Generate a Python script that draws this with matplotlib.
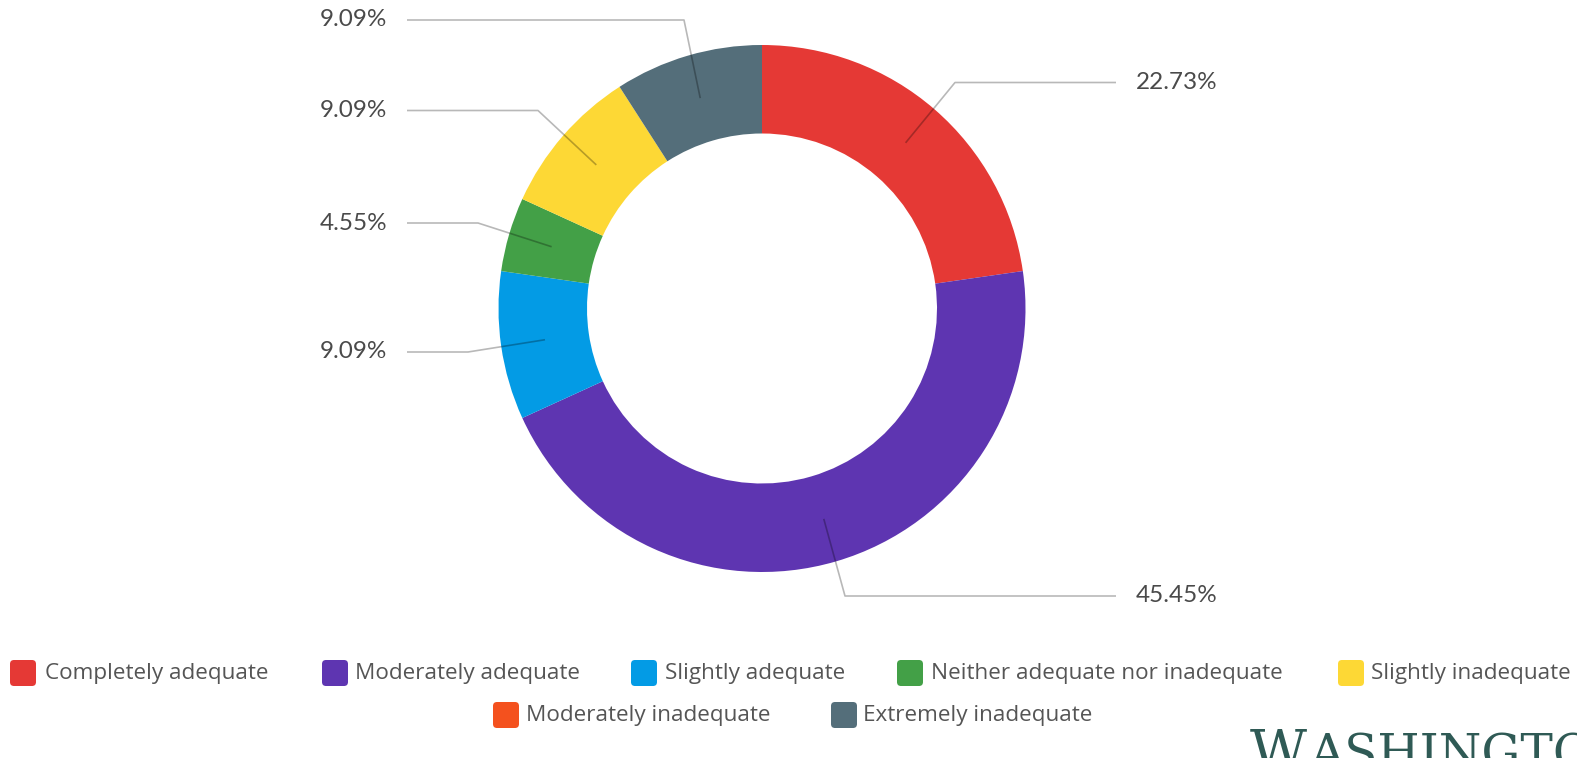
import matplotlib
matplotlib.use("Agg")
import matplotlib.pyplot as plt
from matplotlib.patches import FancyBboxPatch
import numpy as np

categories = ["Completely adequate", "Moderately adequate", "Slightly adequate",
              "Neither adequate nor inadequate", "Slightly inadequate",
              "Moderately inadequate", "Extremely inadequate"]
values = [22.73, 45.45, 9.09, 4.55, 9.09, 0.0, 9.09]
colors = ["#E53935", "#5E35B1", "#039BE5", "#43A047", "#FDD835", "#F4511E", "#546E7A"]

W, H = 1577, 758
fig = plt.figure(figsize=(W / 100, H / 100), dpi=100)
ax = fig.add_axes([0, 0, 1, 1])

cx, cy = 762, 308.5
R, r_in = 263.5, 175
wedges, _ = ax.pie(values, colors=colors, startangle=-90, counterclock=True,
                   radius=R, center=(cx, cy), wedgeprops=dict(width=R - r_in, linewidth=0),
                   frame=True)
ax.set_xlim(0, W)
ax.set_ylim(H, 0)
ax.set_aspect("equal")
ax.axis("off")

# label layout: (elbow x, label y, side)
layout = {
    0: (955, 82.5, "right"),
    1: (845, 596, "right"),
    2: (468, 352, "left"),
    3: (478, 223, "left"),
    4: (538, 110.5, "left"),
    6: (684, 20, "left"),
}
r_mid = (R + r_in) / 2
for i, w in enumerate(wedges):
    if values[i] <= 0 or i not in layout:
        continue
    ang = np.deg2rad((w.theta1 + w.theta2) / 2)
    ax_x = cx + r_mid * np.cos(ang)
    ax_y = cy + r_mid * np.sin(ang)
    ex, ly, side = layout[i]
    if side == "right":
        end_x, tx, ha = 1116, 1136, "left"
    else:
        end_x, tx, ha = 407, 387, "right"
    ax.plot([ax_x, ex, end_x], [ax_y, ly, ly], color="black", alpha=0.28, lw=1.2,
            solid_capstyle="butt", zorder=5)
    ax.text(tx, ly, f"{values[i]:.2f}%", ha=ha, va="center", fontsize=17.5,
            color="#4a4a4a", family="Lato")

# legend
legend_pos = [(10, 45, 673), (322, 355, 673), (631, 665, 673), (897, 931, 673),
              (1338, 1371, 673), (493, 526, 715), (831, 863, 715)]
s = 26
for (sx, tx, ly), cat, col in zip(legend_pos, categories, colors):
    ax.add_patch(FancyBboxPatch((sx + 4, ly - s / 2 + 4), s - 8, s - 8,
                                boxstyle="round,pad=4", facecolor=col, edgecolor="none"))
    ax.text(tx, ly, cat, ha="left", va="center", fontsize=16.2, color="#555555",
            family="Open Sans")

# logo text (cut off at bottom-right)
ax.text(1250, 769, "W", ha="left", va="baseline", fontsize=40, color="#2F5A55",
        family="DejaVu Serif")
ax.text(1309, 769, "ASHINGTON", ha="left", va="baseline", fontsize=35, color="#2F5A55",
        family="DejaVu Serif")

fig.savefig("out.png", dpi=100)
